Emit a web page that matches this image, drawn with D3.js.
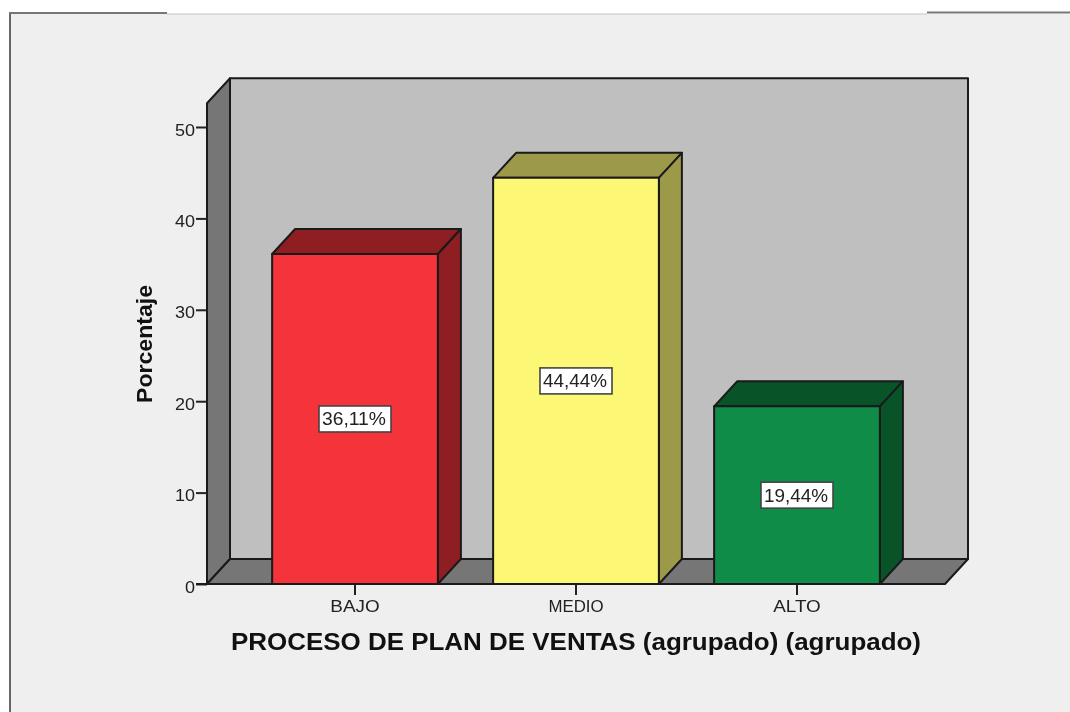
<!DOCTYPE html>
<html>
<head>
    <meta charset="utf-8"/>
    <title>Proceso de plan de ventas</title>
    <script src="https://d3js.org/d3.v7.min.js"></script>
    <style>
        body { margin: 0; background: #ffffff; font-family: "Liberation Sans", Arial, sans-serif; }
        /* the source is a slightly soft screenshot */
        svg { display: block; filter: blur(0.45px); }
        .axis text { fill: #222222; font-family: "Liberation Sans", Arial, sans-serif; font-size: 17px; }
        .axis line, .axis path { stroke: #222222; stroke-width: 2; }
    </style>
</head>
<body>
    <svg id="chart" width="1070" height="712"></svg>

    <script>
    var categories = ["BAJO", "MEDIO", "ALTO"];
    var values = [36.11, 44.44, 19.44];
    var valueLabels = ["36,11%", "44,44%", "19,44%"];
    var frontColors = ["#f4333a", "#fcf875", "#0f8c48"];
    var sideColors = ["#8f1e22", "#9c9a48", "#085428"];
    var yTicks = [0, 10, 20, 30, 40, 50];

    var svg = d3.select("#chart");

    // depth of the fake 3d box
    var dx = 23, dy = -25;
    var lineColor = "#1a1a1a";

    var y = d3.scaleLinear().domain([0, 50]).range([584, 127]);
    var x = d3.scaleBand().domain(categories).range([244.5, 907.5]).paddingInner(0.25).paddingOuter(0.125);

    var left = 207, right = 945, bottom = y(0), top_ = y(52.6);

    // panel behind the chart, with the broken border on top
    svg.append("rect").attr("x", 11).attr("y", 14).attr("width", 1059).attr("height", 698).attr("fill", "#efefef");
    svg.append("line").attr("x1", 10).attr("x2", 10).attr("y1", 13).attr("y2", 712).attr("stroke", "#666666").attr("stroke-width", 2);
    svg.append("line").attr("x1", 9).attr("x2", 167).attr("y1", 13).attr("y2", 13).attr("stroke", "#777777").attr("stroke-width", 2);
    svg.append("line").attr("x1", 167).attr("x2", 927).attr("y1", 14).attr("y2", 14).attr("stroke", "#c4c4c4").attr("stroke-width", 1);
    svg.append("line").attr("x1", 927).attr("x2", 1070).attr("y1", 12.5).attr("y2", 12.5).attr("stroke", "#777777").attr("stroke-width", 2);

    function poly(points, fill) {
        svg.append("path")
            .attr("d", d3.line()(points) + "Z")
            .attr("fill", fill)
            .attr("stroke", lineColor)
            .attr("stroke-width", 2)
            .attr("stroke-linejoin", "round");
    }

    // the reference text is stretched sideways, so force the measured width
    function stretch(sel, width) {
        sel.attr("textLength", width).attr("lengthAdjust", "spacingAndGlyphs");
    }

    //Walls
    poly([[left + dx, top_ + dy], [right + dx, top_ + dy], [right + dx, bottom + dy], [left + dx, bottom + dy]], "#bfbfbf");
    poly([[left, top_], [left + dx, top_ + dy], [left + dx, bottom + dy], [left, bottom]], "#767676");
    poly([[left, bottom], [left + dx, bottom + dy], [right + dx, bottom + dy], [right, bottom]], "#767676");

    //Axes
    var axisY = d3.axisLeft(y).tickValues(yTicks).tickSize(11).tickPadding(1).tickFormat(d3.format("d"));
    var gy = svg.append("g").attr("class", "axis").attr("transform", "translate(" + left + ",0)").call(axisY);
    gy.select(".domain").remove();
    gy.selectAll("text").attr("dy", "0.47em").each(function () {
        stretch(d3.select(this), this.getComputedTextLength() * 1.06);
    });

    var axisX = d3.axisBottom(x).tickSize(11).tickPadding(5);
    var gx = svg.append("g").attr("class", "axis").attr("transform", "translate(0," + bottom + ")").call(axisX);
    gx.select(".domain").remove();
    gx.selectAll("text").each(function (d) {
        stretch(d3.select(this), this.getComputedTextLength() * (d == "MEDIO" ? 0.99 : 1.11));
    });

    //Bars
    categories.forEach(function (c, i) {
        var x0 = x(c), x1 = x(c) + x.bandwidth(), yv = y(values[i]);
        poly([[x0, yv], [x0 + dx, yv + dy], [x1 + dx, yv + dy], [x1, yv]], sideColors[i]);
        poly([[x1, yv], [x1 + dx, yv + dy], [x1 + dx, bottom + dy], [x1, bottom]], sideColors[i]);
        poly([[x0, yv], [x1, yv], [x1, bottom], [x0, bottom]], frontColors[i]);

        var cx = x0 + x.bandwidth() / 2, cy = y(values[i] / 2);
        svg.append("rect").attr("x", cx - 36).attr("y", cy - 13).attr("width", 72).attr("height", 26)
            .attr("fill", "#ffffff").attr("stroke", "#444444").attr("stroke-width", 1.6);
        svg.append("text").attr("x", cx - 1).attr("y", cy + 6.5).attr("text-anchor", "middle")
            .attr("font-size", 17.5).attr("fill", "#222222").text(valueLabels[i])
            .call(stretch, 64);
    });

    //Floor line on top of the bars
    svg.append("line").attr("x1", 196).attr("x2", right).attr("y1", bottom).attr("y2", bottom)
        .attr("stroke", lineColor).attr("stroke-width", 2);

    //Axis titles
    svg.append("text").attr("transform", "translate(152, 344) rotate(-90)").attr("text-anchor", "middle")
        .attr("font-size", 22).attr("font-weight", "bold").attr("fill", "#111111").text("Porcentaje")
        .call(stretch, 118);
    svg.append("text").attr("x", 576).attr("y", 650).attr("text-anchor", "middle")
        .attr("font-size", 23.5).attr("font-weight", "bold").attr("fill", "#111111")
        .text("PROCESO DE PLAN DE VENTAS (agrupado) (agrupado)")
        .call(stretch, 690);
    </script>
</body>
</html>
